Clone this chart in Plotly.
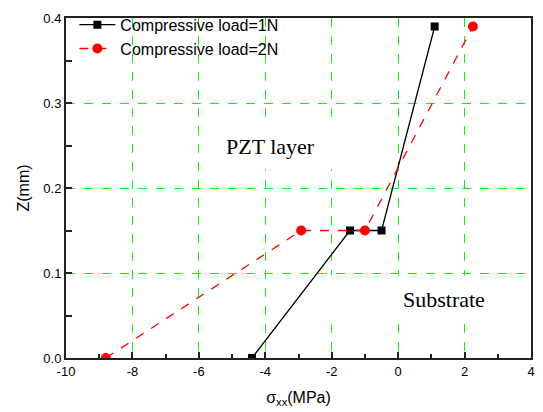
import plotly.graph_objects as go

# Data
load1_sigma = [-4.4, -1.45, -0.5, 1.1]
load1_z = [0.0, 0.15, 0.15, 0.39]
load2_sigma = [-8.8, -2.92, -1.0, 2.25]
load2_z = [0.0, 0.15, 0.15, 0.39]

x_tickvals = [-10, -8, -6, -4, -2, 0, 2, 4]
x_ticktext = ["-10", "-8", "-6", "-4", "-2", "0", "2", "4"]
y_tickvals = [0.0, 0.1, 0.2, 0.3, 0.4]
y_ticktext = ["0.0", "0.1", "0.2", "0.3", "0.4"]

fig = go.Figure()
fig.add_trace(go.Scatter(
    x=load1_sigma, y=load1_z, mode="lines+markers",
    name="Compressive load=1N",
    line=dict(color="black", width=1.3),
    marker=dict(symbol="square", size=8, color="black"),
))
fig.add_trace(go.Scatter(
    x=load2_sigma, y=load2_z, mode="lines+markers",
    name="Compressive load=2N",
    line=dict(color="red", width=1.3, dash="dash"),
    marker=dict(symbol="circle", size=10, color="red"),
))

# white label boxes hiding grid lines behind text
fig.add_shape(type="rect", x0=-4.6, x1=-1.1, y0=0.222, y1=0.279,
              fillcolor="white", line=dict(width=0), layer="between")
fig.add_shape(type="rect", x0=-2.3, x1=2.8, y0=0.044, y1=0.097,
              fillcolor="white", line=dict(width=0), layer="between")

fig.add_annotation(x=-3.84, y=0.249, text="PZT layer", showarrow=False,
                   font=dict(family="Liberation Serif, Times New Roman, serif", size=22, color="black"))
fig.add_annotation(x=1.38, y=0.069, text="Substrate", showarrow=False,
                   font=dict(family="Liberation Serif, Times New Roman, serif", size=22, color="black"))

grid_color = "#11f011"
fig.update_xaxes(
    range=[-10, 4], tickmode="array", tickvals=x_tickvals, ticktext=x_ticktext,
    ticks="inside", ticklen=6, tickwidth=1.5, tickcolor="#222",
    minor=dict(ticks="inside", ticklen=4, tickwidth=1.5, tickcolor="#222", dtick=1, tick0=0, showgrid=False),
    showline=True, linecolor="#222", linewidth=2, mirror=True,
    showgrid=True, gridcolor=grid_color, gridwidth=1, griddash="dash",
    zeroline=False,
    title=dict(text="σ<sub>xx</sub>(MPa)", font=dict(size=16, color="black"), standoff=14),
    tickfont=dict(size=13, color="black"),
)
fig.update_yaxes(
    range=[0, 0.4], tickmode="array", tickvals=y_tickvals, ticktext=y_ticktext,
    ticks="inside", ticklen=6, tickwidth=1.5, tickcolor="#222",
    minor=dict(ticks="inside", ticklen=6, tickwidth=1.5, tickcolor="#222", dtick=0.05, tick0=0, showgrid=False),
    showline=True, linecolor="#222", linewidth=2, mirror=True,
    showgrid=True, gridcolor=grid_color, gridwidth=1.2, griddash="dash",
    zeroline=False,
    title=dict(text="Z(mm)", font=dict(size=16, color="black"), standoff=10),
    tickfont=dict(size=13, color="black"),
)

fig.update_layout(
    width=543, height=412,
    margin=dict(l=66, r=8, t=12, b=54),
    paper_bgcolor="white", plot_bgcolor="white",
    font=dict(family="Liberation Sans, Arial, sans-serif", color="black"),
    showlegend=True,
    legend=dict(x=0.018, y=1.03, xanchor="left", yanchor="top",
                bgcolor="rgba(0,0,0,0)", font=dict(size=16), tracegroupgap=0,
                itemwidth=36),
)

fig.write_html("out.html")
